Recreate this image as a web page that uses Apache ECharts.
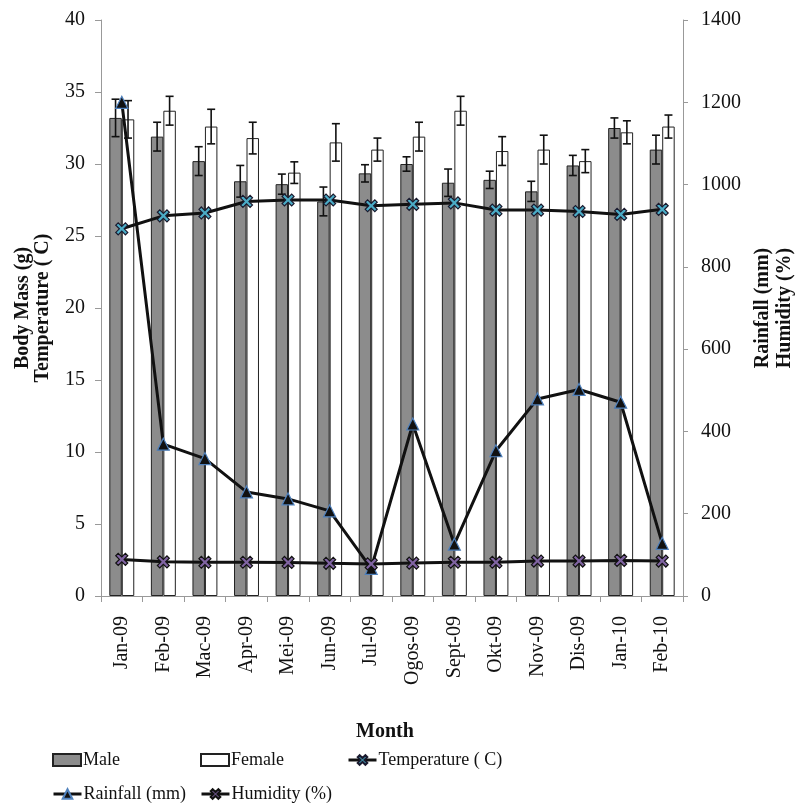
<!DOCTYPE html>
<html>
<head>
<meta charset="utf-8">
<script src="https://cdn.jsdelivr.net/npm/echarts@6/dist/echarts.min.js"></script>
<style>
  html, body { margin: 0; padding: 0; background: #fff; }
  #chart { width: 797px; height: 805px; }
</style>
</head>
<body>
<div id="chart"></div>
<script>
const months = ["Jan-09", "Feb-09", "Mac-09", "Apr-09", "Mei-09", "Jun-09", "Jul-09",
  "Ogos-09", "Sept-09", "Okt-09", "Nov-09", "Dis-09", "Jan-10", "Feb-10"];

const maleMass = [33.2, 31.9, 30.2, 28.8, 28.6, 27.4, 29.35, 30.0, 28.7, 28.9, 28.1, 29.9, 32.5, 31.0];
const maleErr = [1.3, 1.0, 1.0, 1.1, 0.7, 1.0, 0.6, 0.5, 0.95, 0.6, 0.7, 0.7, 0.7, 1.0];
const femaleMass = [33.1, 33.7, 32.6, 31.8, 29.4, 31.5, 31.0, 31.9, 33.7, 30.9, 31.0, 30.2, 32.2, 32.6];
const femaleErr = [1.3, 1.0, 1.2, 1.1, 0.75, 1.3, 0.8, 1.0, 1.0, 1.0, 1.0, 0.8, 0.8, 0.8];

const temperature = [25.5, 26.4, 26.6, 27.4, 27.5, 27.5, 27.1, 27.2, 27.3, 26.8, 26.8, 26.7, 26.5, 26.85];
const rainfall = [1200, 369, 334, 253, 236, 207, 67, 418, 126, 353, 479, 502, 471, 128];
const humidity = [89, 83, 82, 82, 81.5, 79.5, 78, 80, 82, 82, 85, 85, 86.5, 85];

const serif = "Liberation Serif";
const xMark = "path://M0,2 L2,0 L5,3 L8,0 L10,2 L7,5 L10,8 L8,10 L5,7 L2,10 L0,8 L3,5 Z";

// error bar data: [category, value, error, side]
const errData = [];
months.forEach((m, i) => {
  errData.push([i, maleMass[i], maleErr[i], -1]);
  errData.push([i, femaleMass[i], femaleErr[i], 1]);
});

function renderErr(params, api) {
  const band = api.size([1, 0])[0];
  const x = api.coord([api.value(0), 0])[0] + api.value(3) * band * 0.15;
  const v = api.value(1);
  const e = api.value(2);
  const yTop = api.coord([api.value(0), v + e])[1];
  const yBot = api.coord([api.value(0), v - e])[1];
  const cap = 4;
  const style = { stroke: "#111", lineWidth: 1.6 };
  return {
    type: "group",
    children: [
      { type: "line", shape: { x1: x, y1: yTop, x2: x, y2: yBot }, style: style },
      { type: "line", shape: { x1: x - cap, y1: yTop, x2: x + cap, y2: yTop }, style: style },
      { type: "line", shape: { x1: x - cap, y1: yBot, x2: x + cap, y2: yBot }, style: style },
    ],
  };
}

function legendAt(name, left, top, icon) {
  const lg = {
    data: [name],
    left: left,
    top: top,
    itemWidth: 28,
    itemHeight: 12,
    itemGap: 0,
    selectedMode: false,
    lineStyle: { width: 3, color: "#111" },
    textStyle: { fontFamily: serif, fontSize: 18, color: "#111", padding: [0, 0, 0, -3] },
  };
  if (icon) lg.icon = icon;
  return lg;
}

const chart = echarts.init(document.getElementById("chart"));

const option = {
  animation: false,
  backgroundColor: "#fff",
  textStyle: { fontFamily: serif },
  grid: { left: 101, right: 114, top: 20, bottom: 209, containLabel: false, outerBoundsMode: "none" },
  legend: [
    legendAt("Male", 47, 746, "rect"),
    legendAt("Female", 195, 746, "rect"),
    legendAt("Temperature ( C)", 342, 746),
    legendAt("Rainfall (mm)", 47, 780),
    legendAt("Humidity (%)", 195, 780),
  ],
  xAxis: {
    type: "category",
    data: months,
    boundaryGap: true,
    name: "Month",
    nameLocation: "middle",
    nameGap: 126,
    nameTextStyle: { fontFamily: serif, fontSize: 20, fontWeight: "bold", color: "#111", padding: [0, 14, 0, 0] },
    axisLine: { lineStyle: { color: "#999", width: 1 } },
    axisTick: { show: true, length: 6, lineStyle: { color: "#999" } },
    axisLabel: { rotate: 90, interval: 0, margin: 20, fontFamily: serif, fontSize: 20, color: "#111" },
    splitLine: { show: false },
  },
  yAxis: [
    {
      type: "value",
      min: 0,
      max: 40,
      interval: 5,
      name: "Body Mass (g)\nTemperature ( C)",
      nameLocation: "middle",
      nameGap: 48,
      nameTextStyle: { fontFamily: serif, fontSize: 20, fontWeight: "bold", color: "#111", lineHeight: 20 },
      axisLine: { show: true, lineStyle: { color: "#999", width: 1 } },
      axisTick: { show: true, length: 6, lineStyle: { color: "#999" } },
      axisLabel: { margin: 16, fontFamily: serif, fontSize: 20, color: "#111" },
      splitLine: { show: false },
    },
    {
      type: "value",
      min: 0,
      max: 1400,
      interval: 200,
      position: "right",
      name: "Rainfall (mm)\nHumidity (%)",
      nameLocation: "middle",
      nameGap: 61,
      nameTextStyle: { fontFamily: serif, fontSize: 20, fontWeight: "bold", color: "#111", lineHeight: 22 },
      axisLine: { show: true, lineStyle: { color: "#999", width: 1 } },
      axisTick: { show: true, length: 5, lineStyle: { color: "#999" } },
      axisLabel: { margin: 18, fontFamily: serif, fontSize: 20, color: "#111", formatter: (v) => String(v) },
      splitLine: { show: false },
    },
  ],
  series: [
    {
      name: "Male",
      type: "bar",
      data: maleMass,
      barWidth: "30%",
      barGap: "0%",
      itemStyle: { color: "#8c8c8c", borderColor: "#222", borderWidth: 1 },
    },
    {
      name: "Female",
      type: "bar",
      data: femaleMass,
      barWidth: "30%",
      barGap: "0%",
      itemStyle: { color: "#fff", borderColor: "#222", borderWidth: 1 },
    },
    {
      name: "errors",
      type: "custom",
      data: errData,
      renderItem: renderErr,
      encode: { x: 0, y: 1 },
      z: 3,
    },
    {
      name: "Temperature ( C)",
      type: "line",
      data: temperature,
      yAxisIndex: 0,
      symbol: xMark,
      symbolSize: 12,
      lineStyle: { color: "#111", width: 3 },
      itemStyle: { color: "#4bacc6", borderColor: "#1a1a2e", borderWidth: 1.2 },
      z: 4,
    },
    {
      name: "Rainfall (mm)",
      type: "line",
      data: rainfall,
      yAxisIndex: 1,
      symbol: "triangle",
      symbolSize: 12,
      lineStyle: { color: "#111", width: 3 },
      itemStyle: { color: "#111", borderColor: "#4f81bd", borderWidth: 1.2 },
      z: 4,
    },
    {
      name: "Humidity (%)",
      type: "line",
      data: humidity,
      yAxisIndex: 1,
      symbol: xMark,
      symbolSize: 12,
      lineStyle: { color: "#111", width: 3 },
      itemStyle: { color: "#8064a2", borderColor: "#111", borderWidth: 1.2 },
      z: 4,
    },
  ],
};

chart.setOption(option);
</script>
</body>
</html>
